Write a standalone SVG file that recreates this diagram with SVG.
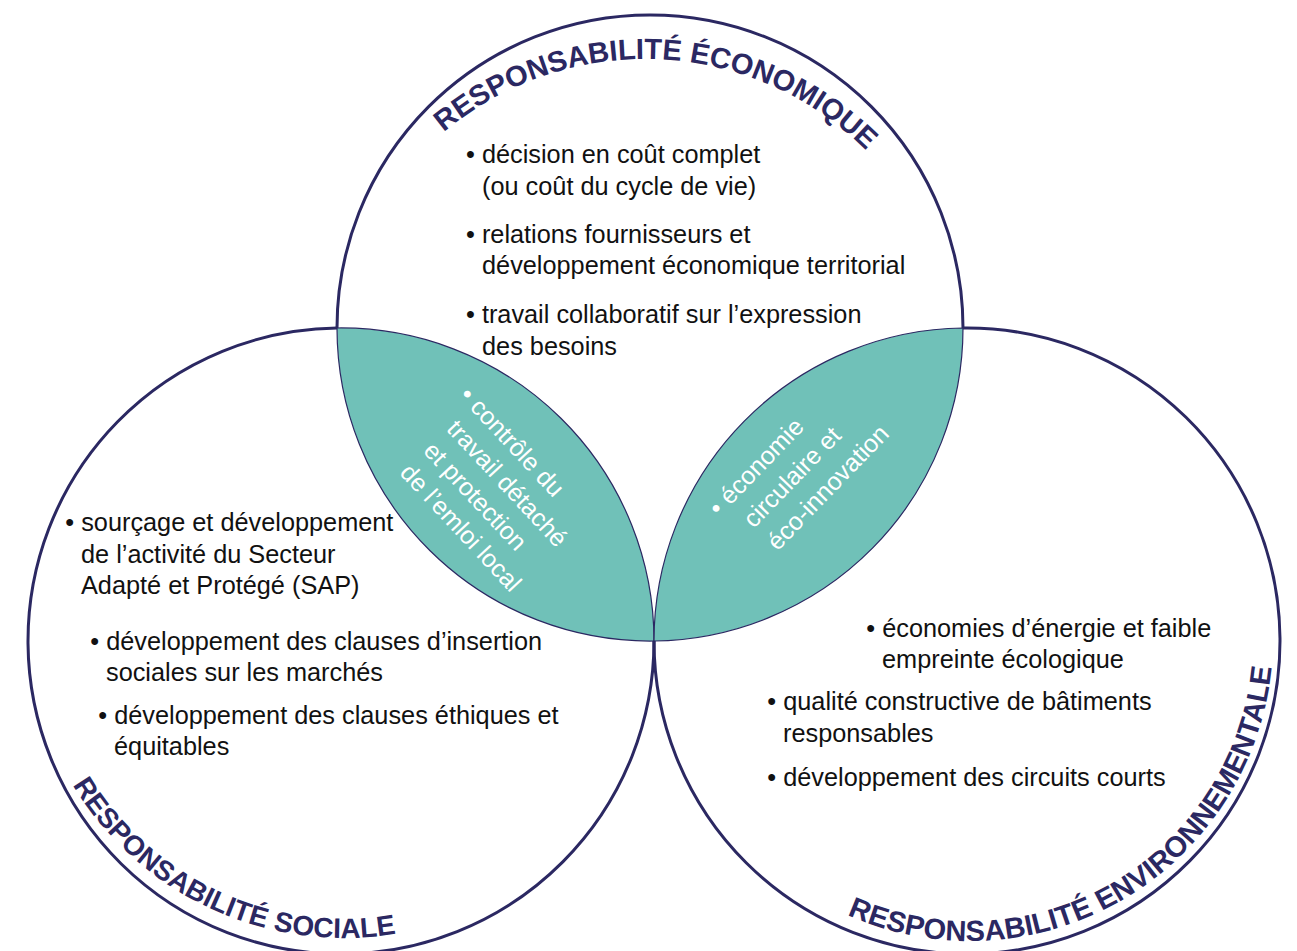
<svg xmlns="http://www.w3.org/2000/svg" width="1297" height="951" viewBox="0 0 1297 951">
<style>
.ring{fill:none;stroke:#2b2862;stroke-width:3}
.lens{fill:#70c1b8;stroke:#2b2862;stroke-width:1.2}
.body{font-family:"Liberation Sans",Arial,sans-serif;font-size:25.3px;fill:#111}
.lenstxt{font-family:"Liberation Sans",Arial,sans-serif;font-size:25px;fill:#fff}
.title{font-family:"Liberation Sans",Arial,sans-serif;font-size:29px;font-weight:bold;fill:#2b2862}
</style>
<defs>
<path id="arcTop" d="M 332 372 A 313 313 0 0 1 958 372"/>
<path id="arcSoc" d="M 27 621 A 317 317 0 0 0 661 621"/>
<path id="arcEnv" d="M 667 638 A 303 303 0 0 0 1273 638"/>
</defs>
<rect width="1297" height="951" fill="#fff"/>

<g id="circle-economique">
<path class="ring" d="M337,328 A313,313 0 0 1 963,328"/>
<text class="title"><textPath href="#arcTop" startOffset="505" text-anchor="middle">RESPONSABILITÉ ÉCONOMIQUE</textPath></text>
<text class="body"><tspan x="466" y="163">• décision en coût complet</tspan><tspan x="482" y="195">(ou coût du cycle de vie)</tspan><tspan x="466" y="243">• relations fournisseurs et</tspan><tspan x="482" y="274">développement économique territorial</tspan><tspan x="466" y="323">• travail collaboratif sur l’expression</tspan><tspan x="482" y="355">des besoins</tspan></text>
</g>

<g id="circle-sociale">
<path class="ring" d="M337,328 A313,313 0 1 0 654,641"/>
<text class="title" style="font-size:28px"><textPath href="#arcSoc" startOffset="361.3" text-anchor="middle">RESPONSABILITÉ SOCIALE</textPath></text>
<text class="body"><tspan x="65.3" y="531">• sourçage et développement</tspan><tspan x="81" y="563">de l’activité du Secteur</tspan><tspan x="81" y="594">Adapté et Protégé (SAP)</tspan><tspan x="90.3" y="650">• développement des clauses d’insertion</tspan><tspan x="106" y="681">sociales sur les marchés</tspan><tspan x="98.3" y="724">• développement des clauses éthiques et</tspan><tspan x="114" y="755">équitables</tspan></text>
</g>

<g id="circle-environnementale">
<path class="ring" d="M963,328 A313,313 0 1 1 654,641"/>
<text class="title"><textPath href="#arcEnv" startOffset="635.7" text-anchor="middle">RESPONSABILITÉ ENVIRONNEMENTALE</textPath></text>
<text class="body"><tspan x="866.3" y="637">• économies d’énergie et faible</tspan><tspan x="882" y="668">empreinte écologique</tspan><tspan x="767.3" y="710">• qualité constructive de bâtiments</tspan><tspan x="783" y="742">responsables</tspan><tspan x="767.3" y="786">• développement des circuits courts</tspan></text>
</g>

<g id="lens-eco-sociale">
<path class="lens" d="M337,328 A313,313 0 0 0 654,641 A313,313 0 0 0 337,328 Z"/>
<text class="lenstxt" transform="translate(469,408) rotate(47)"><tspan x="-15.7" y="0">• contrôle du</tspan><tspan x="0" y="32">travail détaché</tspan><tspan x="0" y="64">et protection</tspan><tspan x="0" y="96">de l’emloi local</tspan></text>
</g>

<g id="lens-eco-env">
<path class="lens" d="M963,328 A313,313 0 0 1 654,641 A313,313 0 0 1 963,328 Z"/>
<text class="lenstxt" transform="translate(730,506) rotate(-46)"><tspan x="-15.7" y="0">• économie</tspan><tspan x="0" y="33">circulaire et</tspan><tspan x="0" y="66">éco-innovation</tspan></text>
</g>

<g id="connectors"></g>
</svg>
